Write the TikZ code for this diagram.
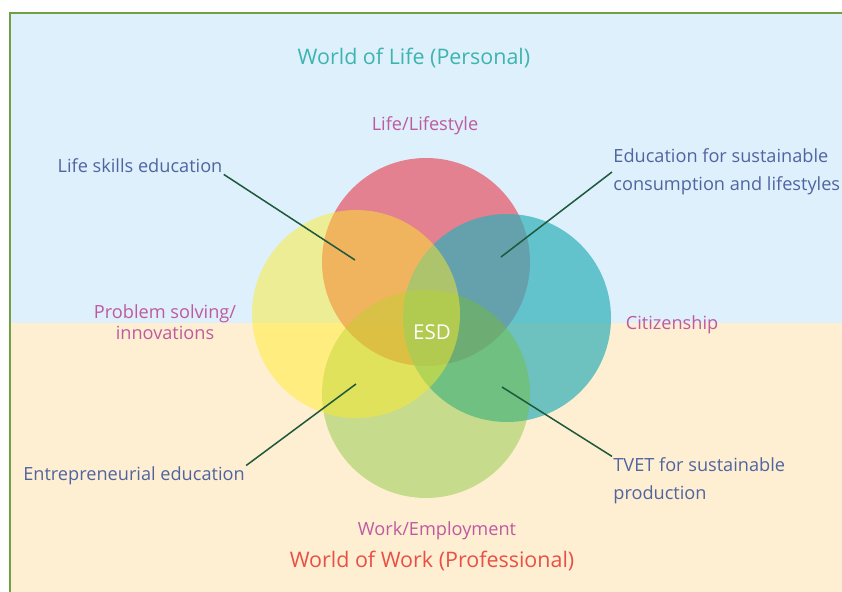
\documentclass[tikz,border=0pt]{standalone}
\usepackage{fontspec}
\setmainfont{Open Sans}
\definecolor{skyband}{RGB}{222,240,252}
\definecolor{sandband}{RGB}{255,239,210}
\definecolor{framegreen}{RGB}{112,160,70}
\definecolor{titleteal}{RGB}{60,180,175}
\definecolor{titlered}{RGB}{232,80,70}
\definecolor{catpink}{RGB}{190,90,160}
\definecolor{noteblue}{RGB}{80,100,160}
\definecolor{leadgreen}{RGB}{30,90,60}
\definecolor{lifered}{RGB}{230,93,109}
\definecolor{citteal}{RGB}{48,176,185}
\definecolor{workgreen}{RGB}{117,191,35}
\definecolor{probyellow}{RGB}{255,235,40}
\tikzset{
  venn/.style={circle, minimum size=6.24cm, inner sep=0pt},
  world/.style={font=\fontsize{18.3}{22}\selectfont},
  cat/.style={text=catpink, font=\fontsize{15.5}{18}\selectfont, align=center, inner sep=1pt},
  note/.style={text=noteblue, font=\fontsize{15.5}{24}\selectfont, inner sep=1pt},
  lead/.style={leadgreen, line width=1.3pt},
}
\begin{document}
\begin{tikzpicture}[x=0.03cm, y=-0.03cm]

\useasboundingbox (0,0) rectangle (842,592);
\fill[skyband] (10,13) rectangle (842,323);
\fill[sandband] (10,323) rectangle (842,592);
\draw[framegreen, line width=1.6pt] (10,592) -- (10,13) -- (842,13);

\node[venn, fill=lifered, fill opacity=0.75] (life) at (426,262) {};
\node[venn, fill=citteal, fill opacity=0.7] (citizen) at (507,318) {};
\node[venn, fill=workgreen, fill opacity=0.4] (work) at (426,394) {};
\node[venn, fill=probyellow, fill opacity=0.48] (problem) at (356,314) {};

\node[text=white, font=\fontsize{17.5}{20}\selectfont] (esd) at (432,332) {ESD};

\node[world, text=titleteal] (worldlife) at (414,58) {World of Life (Personal)};
\node[cat] (lifelbl) at (425,126) {Life/Lifestyle};
\node[cat] (problbl) at (165,322) {Problem solving/\\innovations};
\node[cat] (citlbl) at (672,325) {Citizenship};
\node[cat] (worklbl) at (437,531) {Work/Employment};
\node[world, text=titlered] (worldwork) at (432,561) {World of Work (Professional)};

\node[note] (lifeskills) at (140,166) {Life skills education};
\node[note, anchor=west, align=left] (consump) at (612,172) {Education for sustainable\\consumption and lifestyles};
\node[note] (entre) at (134,476) {Entrepreneurial education};
\node[note, anchor=west, align=left] (tvet) at (612,481) {TVET for sustainable\\production};

\coordinate (lifeskillspt) at (355,260);
\coordinate (consumppt) at (501,257);
\coordinate (entrept) at (356,384);
\coordinate (tvetpt) at (502,387);

\draw[lead] (lifeskills.south east) -- (lifeskillspt);
\draw[lead] (consump.west) -- (consumppt);
\draw[lead] (entre.north east) -- (entrept);
\draw[lead] (tvet.north west) -- (tvetpt);

\end{tikzpicture}
\end{document}
